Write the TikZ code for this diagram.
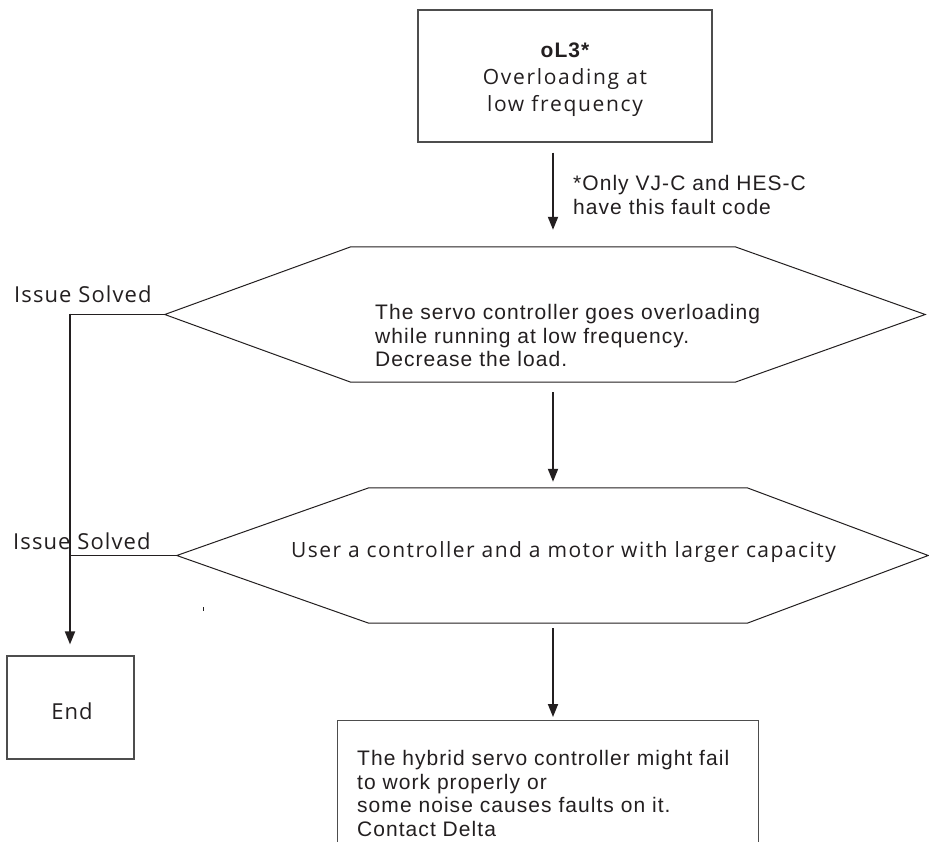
\documentclass[tikz,border=0pt]{standalone}
\usepackage{fontspec}
\usetikzlibrary{arrows.meta,calc}
\newfontfamily\hfont{Liberation Sans}[LetterSpace=5]
\newfontfamily\mfonttop{Open Sans}[LetterSpace=8]
\newfontfamily\mfonthex{Open Sans}[LetterSpace=7]
\newfontfamily\mfontlab{Open Sans}[LetterSpace=5]
\definecolor{ink}{HTML}{231F20}
\definecolor{edge}{HTML}{4D4D4D}
\begin{document}
\begin{tikzpicture}[x=1pt,y=-1pt,
  box/.style={draw=edge,line width=1.2pt,rectangle,inner sep=0pt},
  hexbox/.style={rectangle,inner sep=0pt,draw=none},
  hexline/.style={draw=ink,line width=1pt,line join=miter},
  arr/.style={draw=ink,line width=1.8pt,-{Triangle[length=13pt,width=10pt]}},
  link/.style={draw=ink,line width=1.1pt},
  vlink/.style={draw=ink,line width=1.9pt,-{Triangle[length=13pt,width=10pt]}},
  htext/.style={text=ink,font=\hfont\fontsize{21}{23.7}\selectfont,inner sep=0pt},
  toptext/.style={text=ink,font=\mfonttop\fontsize{21}{27}\selectfont,inner sep=0pt},
  hextext/.style={text=ink,font=\mfonthex\fontsize{21}{27}\selectfont,inner sep=0pt},
  ltext/.style={text=ink,font=\mfontlab\fontsize{22}{26}\selectfont,inner sep=0pt},
]
\useasboundingbox (0,0) rectangle (929,841);
\clip (0,0) rectangle (929,841);
\fill[white] (0,0) rectangle (929,841);

% top box
\node[box, minimum width=294, minimum height=132] (t) at (565,76) {};
\node[toptext, align=center, anchor=north] (tt) at (565,43)
  {{\hfont\bfseries oL3*}\\Overloading at\\low frequency};

% hexagon 1
\node[hexbox, minimum width=760, minimum height=135] (h1) at (545,314.5) {};
\draw[hexline] (h1.west) -- ([xshift=186pt]h1.north west) -- ([xshift=-190pt]h1.north east)
  -- (h1.east) -- ([xshift=-190pt]h1.south east) -- ([xshift=186pt]h1.south west) -- cycle;
\node[htext, align=left, anchor=north west] (h1t) at (375,304)
  {The servo controller goes overloading\\while running at low frequency.\\Decrease the load.};

% hexagon 2
\node[hexbox, minimum width=751, minimum height=135] (h2) at (552.5,555.5) {};
\draw[hexline] (h2.west) -- ([xshift=192pt]h2.north west) -- ([xshift=-181pt]h2.north east)
  -- (h2.east) -- ([xshift=-181pt]h2.south east) -- ([xshift=192pt]h2.south west) -- cycle;
\node[hextext, anchor=base] (h2t) at (563.5,557)
  {User a controller and a motor with larger capacity};

% bottom box
\node[box, anchor=north west, minimum width=421, minimum height=150] (b) at (337,720) {};
\node[htext, align=left, anchor=north west] (bt) at (357,750)
  {The hybrid servo controller might fail\\to work properly or\\some noise causes faults on it.\\Contact Delta};

% end box
\node[box, minimum width=127, minimum height=103] (e) at (70.5,707.5) {};
\node[ltext, anchor=base] (et) at (72,719) {End};

% labels
\node[htext, align=left, anchor=north west] (lab) at (573,175)
  {*Only VJ-C and HES-C\\have this fault code};
\node[ltext, anchor=base west] (s1) at (14,302) {Issue Solved};
\node[ltext, anchor=base west] (s2) at (13,549) {Issue Solved};

% connectors
\coordinate (ax) at (553,0);
\coordinate (vx) at (70,0);
\draw[arr] ([yshift=-10pt]t.south -| ax) -- ([yshift=17pt]h1.north -| ax);
\draw[arr] ([yshift=-10pt]h1.south -| ax) -- ([yshift=6pt]h2.north -| ax);
\draw[arr] ([yshift=-5pt]h2.south -| ax) -- ([yshift=3pt]b.north -| ax);
\draw[link] (h1.west) -- (h1.west -| vx);
\draw[link] (h2.west) -- (h2.west -| vx);
\draw[vlink] ([yshift=0.9pt]h1.west -| vx) -- ([yshift=11pt]e.north -| vx);

% stray tick
\coordinate (tick) at (203,607);
\draw[ink, line width=0.8pt] (tick) -- ++(0,4);
\end{tikzpicture}
\end{document}
